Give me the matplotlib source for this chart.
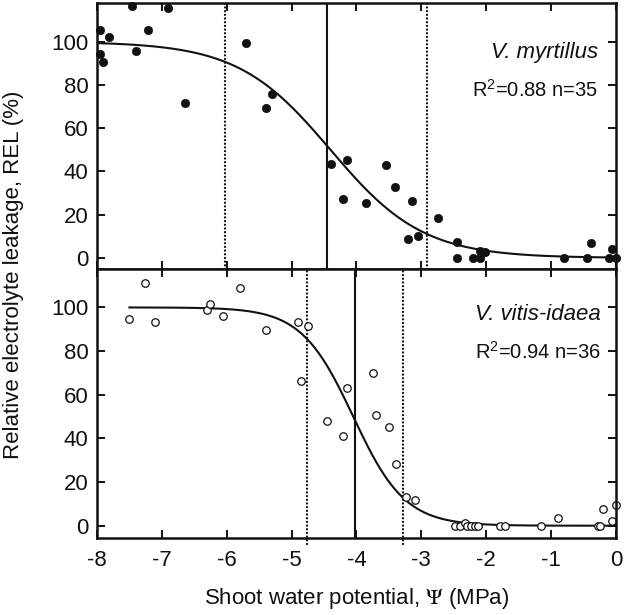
import numpy as np
import matplotlib
matplotlib.use("Agg")
import matplotlib.pyplot as plt

plt.rcParams['font.family'] = ['Liberation Sans', 'DejaVu Sans']
plt.rcParams['mathtext.fontset'] = 'stix'
plt.rcParams['axes.unicode_minus'] = False

# ---- data: V. myrtillus (filled) ----
myr_x = [-7.95, -7.95, -7.91, -7.81, -7.46, -7.40, -7.21, -6.90, -6.65, -5.70,
         -5.40, -5.30, -4.40, -4.15, -4.20, -3.86, -3.55, -3.40, -3.15, -3.20,
         -3.05, -2.74, -2.45, -2.45, -2.20, -2.10, -2.10, -2.02, -0.80, -0.45,
         -0.39, -0.10, -0.06, 0.00]
myr_y = [105.2, 94.3, 90.6, 102.0, 116.7, 95.5, 105.4, 115.8, 71.7, 99.2,
         69.4, 75.6, 43.5, 45.5, 27.3, 25.6, 43.0, 32.6, 26.3, 8.9,
         10.3, 18.4, 7.2, 0.0, 0.0, 0.0, 3.1, 2.6, 0.0, 0.0,
         6.9, 0.0, 4.1, 0.0]

# ---- data: V. vitis-idaea (open) ----
vit_x = [-7.50, -7.26, -7.10, -6.31, -6.25, -6.05, -5.80, -5.40, -4.90, -4.75,
         -4.85, -4.45, -4.20, -4.15, -3.75, -3.70, -3.50, -3.39, -3.24, -3.10,
         -2.48, -2.40, -2.33, -2.29, -2.23, -2.18, -2.12, -1.79, -1.71, -1.15,
         -0.89, -0.28, -0.24, -0.20, -0.06, 0.00]
vit_y = [94.5, 111.3, 93.4, 98.6, 101.4, 95.9, 108.9, 89.6, 93.3, 91.3,
         66.5, 48.2, 41.3, 63.0, 69.9, 50.6, 45.4, 28.1, 13.0, 11.9,
         0.0, 0.0, 1.4, 0.0, 0.0, 0.0, 0.0, 0.0, 0.0, 0.0,
         3.5, 0.0, 0.0, 7.7, 2.0, 9.3]

# fitted logistic parameters (midpoint, slope) and curve ranges
myr_fit = (-4.40, 1.40)
vit_fit = (-4.05, 2.50)
myr_range = (-8.0, 0.0)
vit_range = (-7.5, 0.0)

# reference lines
myr_lines = {'dotted': [-6.02, -2.91], 'solid': [-4.46]}
vit_lines = {'dotted': [-4.77, -3.28], 'solid': [-4.03]}

labels = [("V. myrtillus", "$\\mathregular{R^2}$=0.88 n=35"),
          ("V. vitis-idaea", "$\\mathregular{R^2}$=0.94 n=36")]

xticks = [-8, -7, -6, -5, -4, -3, -2, -1, 0]
yticks = [0, 20, 40, 60, 80, 100]

fig = plt.figure(figsize=(6.24, 6.15), dpi=100)
ax1 = fig.add_axes([0.1554, 0.5626, 0.8317, 0.4325])
ax2 = fig.add_axes([0.1554, 0.1260, 0.8317, 0.4366])

def logistic(x, p):
    x0, b = p
    return 100.0 / (1.0 + np.exp(b * (x - x0)))

for ax, xs, ys, fit, rng, lines, filled, (sp, r2), ylim, txt_y in [
        (ax1, myr_x, myr_y, myr_fit, myr_range, myr_lines, True, labels[0], (-5.1, 117.9), (0.792, 0.648)),
        (ax2, vit_x, vit_y, vit_fit, vit_range, vit_lines, False, labels[1], (-5.4, 117.6), (0.8085, 0.665))]:
    ax.set_xlim(-8, 0)
    ax.set_ylim(*ylim)
    for xv in lines['dotted']:
        ln = ax.axvline(xv, color='#111111', lw=1.7, ls=(0, (0.01, 1.55)),
                        ymin=(-0.025 if not filled else 0), clip_on=filled)
        ln.set_dash_capstyle('round')
    for xv in lines['solid']:
        ax.axvline(xv, color='#111111', lw=1.5)
    xc = np.linspace(rng[0], rng[1], 400)
    ax.plot(xc, logistic(xc, fit), color='#111111', lw=1.5)
    if filled:
        ax.plot(xs, ys, 'o', ms=6.0, mfc='#111111', mec='#111111', mew=0.5, clip_on=False)
    else:
        ax.plot(xs, ys, 'o', ms=5.4, mfc='white', mec='#111111', mew=0.9, clip_on=False)
    ax.text(0.966 if filled else 0.971, txt_y[0], sp, transform=ax.transAxes,
            ha='right', va='baseline', fontsize=16, style='italic', color='#111111')
    ax.text(0.966 if filled else 0.971, txt_y[1], r2, transform=ax.transAxes,
            ha='right', va='baseline', fontsize=14.5, color='#111111')
    ax.set_xticks(xticks)
    ax.set_yticks(yticks)
    ax.tick_params(direction='in', length=6, width=1.4, top=True, right=True,
                   labelsize=16, colors='#111111', pad=6)
    for s in ax.spines.values():
        s.set_linewidth(1.8)
        s.set_color('#111111')

ax1.tick_params(labelbottom=False)
ax2.tick_params(axis='x', pad=9)
ax2.set_xlabel("Shoot water potential, $\\Psi$ (MPa)", fontsize=16, color='#111111', labelpad=11)
fig.text(0.021, 0.553, "Relative electrolyte leakage, REL (%)", rotation=90,
         ha='center', va='center', fontsize=16, color='#111111')

fig.savefig("out.png", dpi=100)
